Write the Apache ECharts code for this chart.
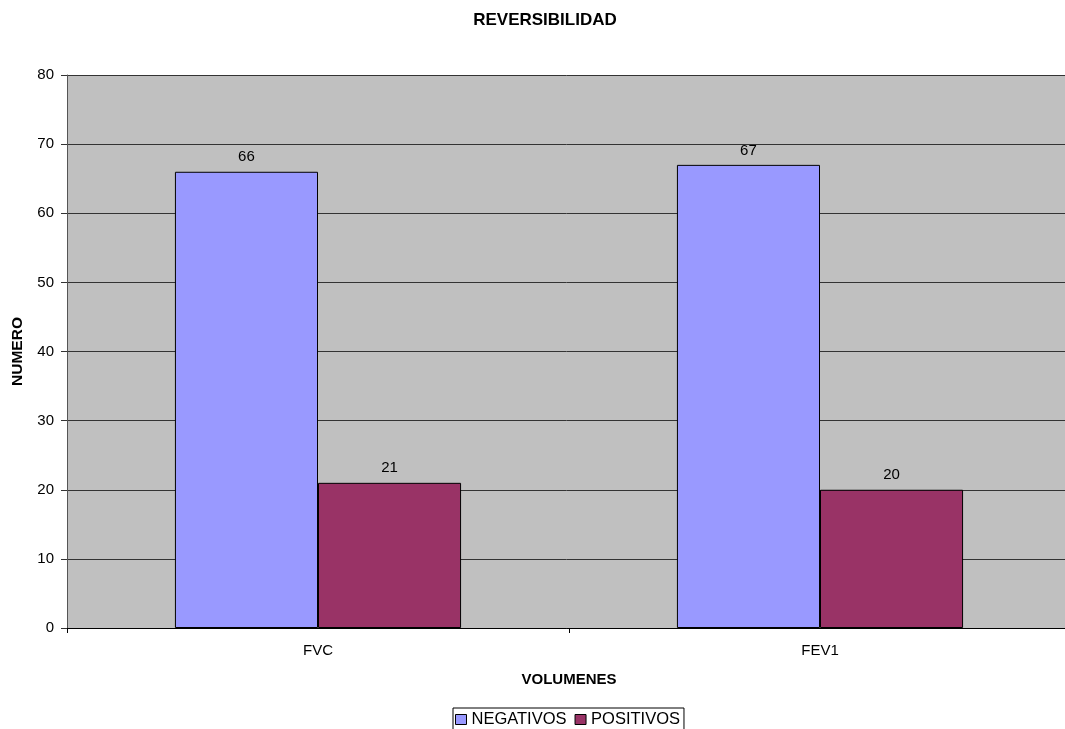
<!DOCTYPE html>
<html>
<head>
<meta charset="utf-8">
<style>
  html, body { margin: 0; padding: 0; background: #ffffff; }
  #chart { width: 1065px; height: 729px; }
</style>
<script src="https://cdn.jsdelivr.net/npm/echarts@6/dist/echarts.min.js"></script>
</head>
<body>
<div id="chart"></div>
<script>
// Reversibility counts per spirometry volume
const categories = ['FVC', 'FEV1'];
const negativos = [66, 67];
const positivos = [21, 20];
const yTicks = { min: 0, max: 80, interval: 10 };

const FONT = 'Liberation Sans, Arial, sans-serif';

const chart = echarts.init(document.getElementById('chart'), null, { renderer: 'canvas' });

chart.setOption({
  animation: false,
  backgroundColor: '#ffffff',
  title: {
    text: 'REVERSIBILIDAD',
    left: 540,
    textAlign: 'center',
    top: 7,
    textStyle: { fontFamily: FONT, fontSize: 17, fontWeight: 'bold', color: '#000' }
  },
  legend: {
    top: 708,
    left: 453,
    icon: 'rect',
    itemWidth: 11,
    itemHeight: 10,
    itemGap: 8,
    padding: [3, 4, 3, 2],
    borderColor: '#000',
    borderWidth: 1,
    textStyle: { fontFamily: FONT, fontSize: 16.5, color: '#000', padding: [0, 0, 0, 0] },
    data: [
      { name: 'NEGATIVOS', itemStyle: { color: '#9999FF', borderColor: '#000', borderWidth: 1 } },
      { name: 'POSITIVOS', itemStyle: { color: '#993366', borderColor: '#000', borderWidth: 1 } }
    ]
  },
  // the plotting area runs a few pixels past the right edge of the canvas
  grid: {
    left: 67, right: -6, top: 75, bottom: 101,
    containLabel: false,
    outerBoundsMode: 'none',
    show: true, backgroundColor: '#C0C0C0', borderWidth: 0
  },
  xAxis: {
    type: 'category',
    data: categories,
    name: 'VOLUMENES',
    nameLocation: 'middle',
    nameGap: 44,
    nameTextStyle: { fontFamily: FONT, fontSize: 15, fontWeight: 'bold', color: '#000' },
    axisLine: { lineStyle: { color: '#000', width: 1 } },
    axisTick: { show: true, length: 5, lineStyle: { color: '#000' } },
    axisLabel: { fontFamily: FONT, fontSize: 15, color: '#000', margin: 15 }
  },
  yAxis: {
    type: 'value',
    min: yTicks.min,
    max: yTicks.max,
    interval: yTicks.interval,
    name: 'NUMERO',
    nameLocation: 'middle',
    nameGap: 41,
    nameTextStyle: { fontFamily: FONT, fontSize: 15.5, fontWeight: 'bold', color: '#000' },
    axisLine: { show: true, lineStyle: { color: '#555', width: 1 } },
    axisTick: { show: true, length: 6, lineStyle: { color: '#333' } },
    axisLabel: { fontFamily: FONT, fontSize: 15, color: '#000', margin: 13 },
    splitLine: { show: true, lineStyle: { color: '#333', width: 1 } }
  },
  series: [
    {
      name: 'NEGATIVOS',
      type: 'bar',
      data: negativos,
      barGap: '0%',
      barCategoryGap: '43%',
      itemStyle: { color: '#9999FF', borderColor: '#000', borderWidth: 1 },
      label: { show: true, position: 'top', distance: 7, fontFamily: FONT, fontSize: 15, color: '#000' }
    },
    {
      name: 'POSITIVOS',
      type: 'bar',
      data: positivos,
      itemStyle: { color: '#993366', borderColor: '#000', borderWidth: 1 },
      label: { show: true, position: 'top', distance: 7, fontFamily: FONT, fontSize: 15, color: '#000' }
    }
  ]
});
</script>
</body>
</html>
